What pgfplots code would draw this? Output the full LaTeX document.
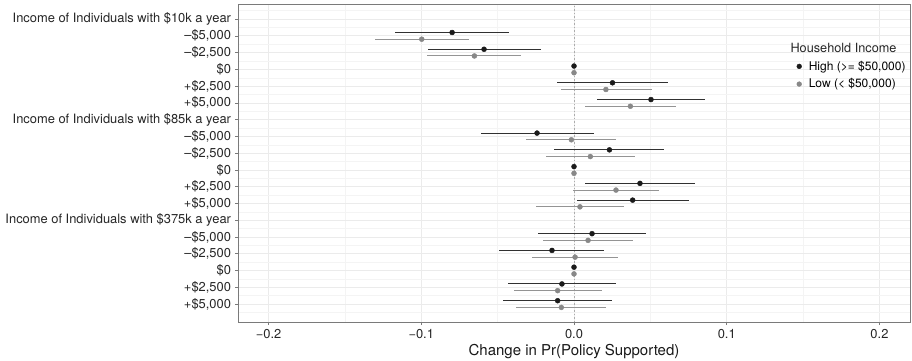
\documentclass[border=0pt]{standalone}
\usepackage{fontspec}
\setmainfont{TeX Gyre Heros}
\usepackage{pgfplots}
\pgfplotsset{compat=1.18}
\usepackage{pgfplotstable}

\definecolor{hiinc}{HTML}{1A1A1A}
\definecolor{loinc}{HTML}{888888}
\definecolor{gridmaj}{HTML}{EBEBEB}
\definecolor{gridmin}{HTML}{F4F4F4}
\definecolor{frame}{HTML}{7A7A7A}

% y: row position (black dodged up, grey dodged down); x: estimate; lo/hi: interval
\pgfplotstableread{
y     x        lo       hi
17.2  -0.0798  -0.1173  -0.0423
16.2  -0.0589  -0.0957  -0.0218
15.2   0.0000   0.0000   0.0000
14.2   0.0252  -0.0111   0.0615
13.2   0.0504   0.0149   0.0855
11.2  -0.0242  -0.0611   0.0129
10.2   0.0232  -0.0128   0.0589
9.2    0.0000   0.0000   0.0000
8.2    0.0432   0.0070   0.0794
7.2    0.0384   0.0018   0.0753
5.2    0.0118  -0.0233   0.0471
4.2   -0.0144  -0.0488   0.0199
3.2    0.0000   0.0000   0.0000
2.2   -0.0079  -0.0434   0.0275
1.2   -0.0107  -0.0465   0.0251
}\highinc

\pgfplotstableread{
y     x        lo       hi
16.8  -0.0997  -0.1304  -0.0687
15.8  -0.0652  -0.0960  -0.0344
14.8   0.0000   0.0000   0.0000
13.8   0.0209  -0.0087   0.0509
12.8   0.0369   0.0072   0.0668
10.8  -0.0017  -0.0314   0.0273
9.8    0.0107  -0.0183   0.0399
8.8    0.0000   0.0000   0.0000
7.8    0.0275  -0.0004   0.0554
6.8    0.0039  -0.0249   0.0327
4.8    0.0092  -0.0200   0.0386
3.8    0.0007  -0.0275   0.0290
2.8    0.0000   0.0000   0.0000
1.8   -0.0107  -0.0395   0.0181
0.8   -0.0083  -0.0380   0.0212
}\lowinc

\begin{document}
\begin{tikzpicture}[x=1pt,y=1pt]
\begin{axis}[
  at={(238pt,38pt)}, anchor=south west,
  scale only axis, width=672pt, height=318pt,
  xmin=-0.22, xmax=0.22, ymin=-0.07, ymax=18.9,
  axis line style={frame, line width=0.6pt},
  xtick={-0.2,-0.1,0,0.1,0.2},
  xticklabels={−0.2,−0.1,0.0,0.1,0.2},
  minor xtick={-0.15,-0.05,0.05,0.15},
  ytick={1,...,18},
  yticklabels={{+\$5,000},{+\$2,500},{\$0},{–\$2,500},{–\$5,000},{Income of Individuals with \$375k a year},
               {+\$5,000},{+\$2,500},{\$0},{–\$2,500},{–\$5,000},{Income of Individuals with \$85k a year},
               {+\$5,000},{+\$2,500},{\$0},{–\$2,500},{–\$5,000},{Income of Individuals with \$10k a year}},
  minor ytick={0.5,1.5,...,18.5},
  grid=both,
  major grid style={gridmaj, line width=0.8pt},
  minor grid style={gridmin, line width=0.5pt},
  tick align=outside, xtick pos=bottom, ytick pos=left,
  major tick length=3pt, minor tick length=0pt,
  tick style={frame, line width=0.6pt},
  tick label style={font=\fontsize{12.9}{14}\selectfont, color=black!85},
  yticklabel style={xshift=-0.5pt},
  xticklabel style={yshift=-1pt},
  xlabel={Change in Pr(Policy Supported)},
  xlabel style={font=\fontsize{15}{17}\selectfont, color=black!90, yshift=1.5pt},
  legend style={at={(axis description cs:0.8265,0.834)}, anchor=north west,
    draw=none, fill=none, font=\fontsize{12}{13}\selectfont, row sep=3pt,
    /tikz/every odd column/.append style={column sep=5pt}},
  legend cell align=left,
  reverse legend,
  legend image code/.code={\fill (2.5pt,0pt) circle (2.4pt);},
]
\draw[loinc!70, dash pattern=on 1.5pt off 2pt, line width=0.6pt]
  (axis cs:0,-0.07) -- (axis cs:0,18.9);

\addplot[color=loinc, only marks, mark=*, mark size=2.5pt,
  error bars/.cd, x dir=both, x explicit, error mark=none,
  error bar style={line width=1pt, color=loinc!90}]
  table[x=x, y=y, x error plus expr=\thisrow{hi}-\thisrow{x},
        x error minus expr=\thisrow{x}-\thisrow{lo}] {\lowinc};
\addlegendentry{Low (< \$50,000)}

\addplot[color=hiinc, only marks, mark=*, mark size=2.5pt,
  error bars/.cd, x dir=both, x explicit, error mark=none,
  error bar style={line width=1pt, color=hiinc!90}]
  table[x=x, y=y, x error plus expr=\thisrow{hi}-\thisrow{x},
        x error minus expr=\thisrow{x}-\thisrow{lo}] {\highinc};
\addlegendentry{High (>= \$50,000)}
\end{axis}
\node[font=\fontsize{12.7}{14}\selectfont, color=black!85] at (843.5,312.3) {Household Income};
\pgfresetboundingbox
\useasboundingbox (0,0) rectangle (912,360);
\end{tikzpicture}
\end{document}
